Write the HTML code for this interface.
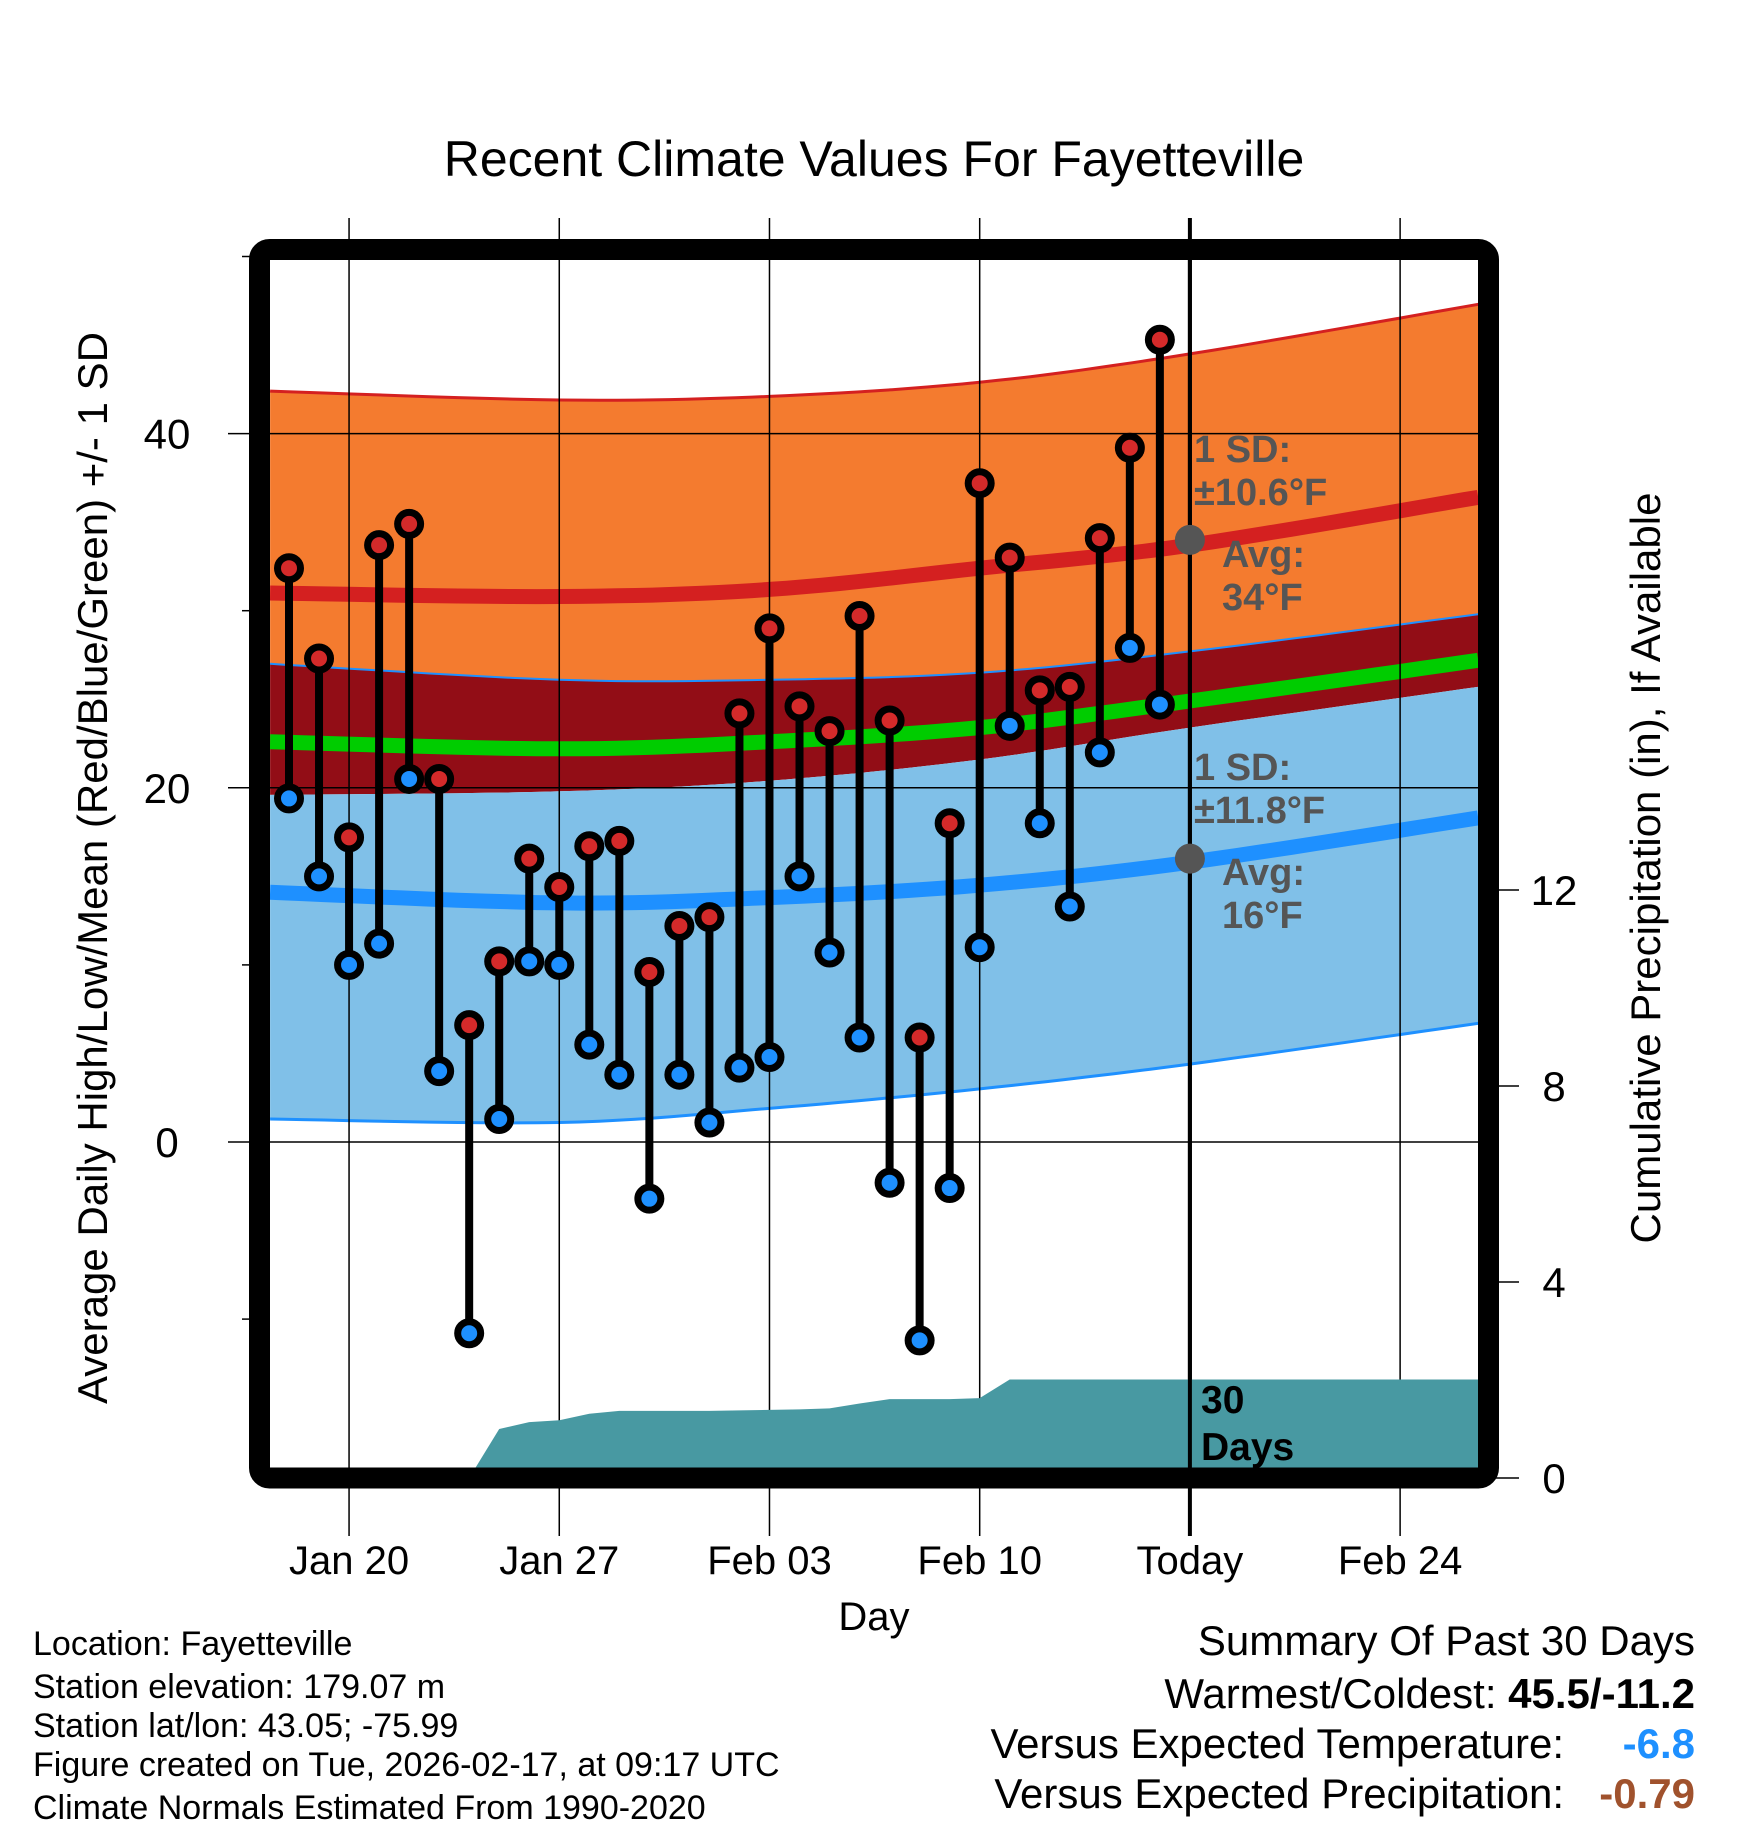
<!DOCTYPE html>
<html><head><meta charset="utf-8"><style>
html,body{margin:0;padding:0;background:#fff;}
svg{display:block;font-family:"Liberation Sans",Arial,sans-serif;}
</style></head><body>
<svg id="chart" width="1748" height="1828" viewBox="0 0 1748 1828" xmlns="http://www.w3.org/2000/svg">
<defs><clipPath id="plotclip"><rect x="270" y="260" width="1208" height="1208"/></clipPath></defs>
<text x="874" y="176" text-anchor="middle" font-size="50">Recent Climate Values For Fayetteville</text>
<g id="bands" clip-path="url(#plotclip)"></g>
<g id="grid"></g>
<g id="precip" clip-path="url(#plotclip)"></g>
<g id="marks"></g>
<g id="annot"></g>
<rect x="259.5" y="249.5" width="1229" height="1228.5" rx="10" fill="none" stroke="#000" stroke-width="21"/>
<g id="axes"></g>
<text transform="translate(107,868) rotate(-90)" text-anchor="middle" font-size="42">Average Daily High/Low/Mean (Red/Blue/Green) +/- 1 SD</text>
<text transform="translate(1660,868) rotate(-90)" text-anchor="middle" font-size="42">Cumulative Precipitation (in), If Available</text>
<text x="874" y="1630" text-anchor="middle" font-size="40">Day</text>
<g font-size="34">
<text x="33" y="1655">Location: Fayetteville</text>
<text x="33" y="1698">Station elevation: 179.07 m</text>
<text x="33" y="1737">Station lat/lon: 43.05; -75.99</text>
<text x="33" y="1776">Figure created on Tue, 2026-02-17, at 09:17 UTC</text>
<text x="33" y="1819">Climate Normals Estimated From 1990-2020</text>
</g>
<g font-size="42" text-anchor="end">
<text x="1695" y="1655">Summary Of Past 30 Days</text>
<text x="1695" y="1708">Warmest/Coldest: <tspan font-weight="bold">45.5/-11.2</tspan></text>
<text x="1564" y="1758">Versus Expected Temperature:</text>
<text x="1695" y="1758" fill="#1e90ff" font-weight="bold">-6.8</text>
<text x="1564" y="1808">Versus Expected Precipitation:</text>
<text x="1695" y="1808" fill="#a0522d" font-weight="bold">-0.79</text>
</g>
</svg>
<script>
// day index: 0 = Jan 18
var highs=[32.4,27.3,17.2,33.7,34.9,20.5,6.6,10.2,16.0,14.4,16.7,17.0,9.6,12.2,12.7,24.2,29.0,24.6,23.2,29.7,23.8,5.9,18.0,37.2,33.0,25.5,25.7,34.1,39.2,45.3];
var lows=[19.4,15.0,10.0,11.2,20.5,4.0,-10.8,1.3,10.2,10.0,5.5,3.8,-3.2,3.8,1.1,4.2,4.8,15.0,10.7,5.9,-2.3,-11.2,-2.6,11.0,23.5,18.0,13.3,22.0,27.9,24.7];
var precip=[0,0,0,0,0,0,0,1.0,1.14,1.18,1.31,1.37,1.37,1.37,1.37,1.38,1.39,1.40,1.42,1.52,1.61,1.61,1.61,1.63,2.01,2.01,2.01,2.01,2.01,2.01,2.01,2.01,2.01,2.01,2.01,2.01,2.01,2.01,2.01,2.01,2.01];
// normals at day offsets
var normDays=[-0.63,9,16,23,30,39.6];
var hiPlus=[42.4,41.9,42.1,42.9,44.5,47.3];
var hiMean=[31.0,30.8,31.2,32.4,33.7,36.4];
var hiMinus=[27.0,26.1,26.1,26.5,27.7,29.8];
var avgMean=[22.6,22.2,22.6,23.4,24.9,27.2];
var loPlus=[19.6,19.8,20.4,21.6,23.4,25.7];
var loMean=[14.1,13.5,13.8,14.5,15.8,18.3];
var loMinus=[1.3,1.1,1.9,3.0,4.4,6.7];
var xTickDays=[2,9,16,23,30,37];
var xTickLabels=["Jan 20","Jan 27","Feb 03","Feb 10","Today","Feb 24"];
var yTicks=[0,20,40];
var yMinor=[-10,10,30,50];
var pTicks=[0,4,8,12];

var NS="http://www.w3.org/2000/svg";
function X(d){return 289+30.03*d;}
function Y(t){return 1142-17.71*t;}
function P(p){return 1478-49*p;}
function mk(tag,attrs,parent){var e=document.createElementNS(NS,tag);for(var k in attrs)e.setAttribute(k,attrs[k]);parent.appendChild(e);return e;}
function g(id){return document.getElementById(id);}
function smooth(arr){
  // Catmull-Rom sampling through the normal points
  var n=arr.length,pts=[];
  function get(i){i=Math.max(0,Math.min(n-1,i));return [normDays[i],arr[i]];}
  for(var i=0;i<n-1;i++){
    var p0=get(i-1),p1=get(i),p2=get(i+1),p3=get(i+2);
    for(var s=0;s<12;s++){
      var t=s/12,t2=t*t,t3=t2*t;
      var f=function(a,b,c,d){return 0.5*((2*b)+(-a+c)*t+(2*a-5*b+4*c-d)*t2+(-a+3*b-3*c+d)*t3);};
      pts.push([X(f(p0[0],p1[0],p2[0],p3[0])),Y(f(p0[1],p1[1],p2[1],p3[1]))]);
    }
  }
  pts.push([X(normDays[n-1]),Y(arr[n-1])]);
  return pts;
}
function ptsStr(p){return p.map(function(a){return a[0].toFixed(1)+","+a[1].toFixed(1);}).join(" ");}
function band(top,bot,fill,name){
  var a=smooth(top),b=smooth(bot).reverse();
  var e=mk('polygon',{points:ptsStr(a.concat(b)),fill:fill},g('bands'));
  
  
}
function line(arr,color,w,name){
  var e=mk('polyline',{points:ptsStr(smooth(arr)),fill:'none',stroke:color,'stroke-width':w},g('bands'));
  
  
}
band(hiPlus,hiMinus,'#f47b2f','high-sd-band');
band(hiMinus,loPlus,'#920d16','mean-band');
band(loPlus,loMinus,'#80c0e8','low-sd-band');
line(hiPlus,'#d42020',3,'high-plus-sd-line');
line(hiMinus,'#1e90ff',2,'high-minus-sd-line');
line(loMinus,'#1e90ff',3,'low-minus-sd-line');
line(hiMean,'#d42020',15,'high-mean-line');
line(avgMean,'#00cc00',15,'avg-mean-line');
line(loMean,'#1e90ff',15,'low-mean-line');

// grid
xTickDays.forEach(function(d,i){
  var x=X(d);
  var e=mk('line',{x1:x,y1:218,x2:x,y2:1536,stroke:'#000','stroke-width':(xTickLabels[i]=='Today'?4:1.5)},g('grid'));
  
  
  var t=mk('text',{x:x,y:1574,'text-anchor':'middle','font-size':40},g('axes'));
  t.textContent=xTickLabels[i];
  
  
});
yTicks.forEach(function(v){
  var y=Y(v);
  var e=mk('line',{x1:228,y1:y,x2:1478,y2:y,stroke:'#000','stroke-width':1.5},g('grid'));
  
  
  var t=mk('text',{x:167,y:y+15,'text-anchor':'middle','font-size':42},g('axes'));
  t.textContent=v;
  
  
});
yMinor.forEach(function(v){
  var y=Y(v);
  var e=mk('line',{x1:242,y1:y,x2:252,y2:y,stroke:'#000','stroke-width':1.5},g('axes'));
  
  
});
pTicks.forEach(function(v){
  var y=P(v);
  var e=mk('line',{x1:1496,y1:y,x2:1519,y2:y,stroke:'#000','stroke-width':1.5},g('axes'));
  
  
  var t=mk('text',{x:1554,y:y+15,'text-anchor':'middle','font-size':42},g('axes'));
  t.textContent=v;
  
  
});

// precip area
(function(){
  var pts=[[X(-1),P(0)]];
  precip.forEach(function(v,i){pts.push([X(i),P(v)]);});
  pts.push([1480,P(precip[precip.length-1])]);
  pts.push([1480,1470]);pts.push([X(-1),1470]);
  var e=mk('polygon',{points:ptsStr(pts),fill:'#4899a2'},g('precip'));
  
  
})();
(function(){
  var x=X(30);
  var e=mk('line',{x1:x,y1:218,x2:x,y2:1468,stroke:'#000','stroke-width':4},g('precip'));
  
  
})();

// marks
highs.forEach(function(h,i){
  var x=X(i),l=lows[i];
  var s=mk('line',{x1:x,y1:Y(h),x2:x,y2:Y(l),stroke:'#000','stroke-width':8},g('marks'));
  
  
});
highs.forEach(function(h,i){
  var x=X(i),l=lows[i];
  var a=mk('circle',{cx:x,cy:Y(h),r:11.5,fill:'#d42a2a',stroke:'#000','stroke-width':7},g('marks'));
  
  
  var b=mk('circle',{cx:x,cy:Y(l),r:11.5,fill:'#1e90ff',stroke:'#000','stroke-width':7},g('marks'));
  
  
});

// annotations
(function(){
  var an=g('annot');
  var d1=mk('circle',{cx:X(30),cy:Y(34),r:15,fill:'#555'},an);
  
  
  var d2=mk('circle',{cx:X(30),cy:Y(16),r:15,fill:'#555'},an);
  
  
  var labels=[[1194,462,"1 SD:"],[1194,505,"±10.6°F"],[1222,567,"Avg:"],[1222,610,"34°F"],[1194,780,"1 SD:"],[1194,823,"±11.8°F"],[1222,885,"Avg:"],[1222,928,"16°F"]];
  labels.forEach(function(L){
    var t=mk('text',{x:L[0],y:L[1],'font-size':38,'font-weight':'bold',fill:'#555'},an);
    t.textContent=L[2];
    
    
  });
  var t1=mk('text',{x:1201,y:1413,'font-size':39,'font-weight':'bold',fill:'#000'},an);
  t1.textContent="30";
  
  
  var t2=mk('text',{x:1201,y:1460,'font-size':39,'font-weight':'bold',fill:'#000'},an);
  t2.textContent="Days";
  
  
})();
</script>
</body></html>
